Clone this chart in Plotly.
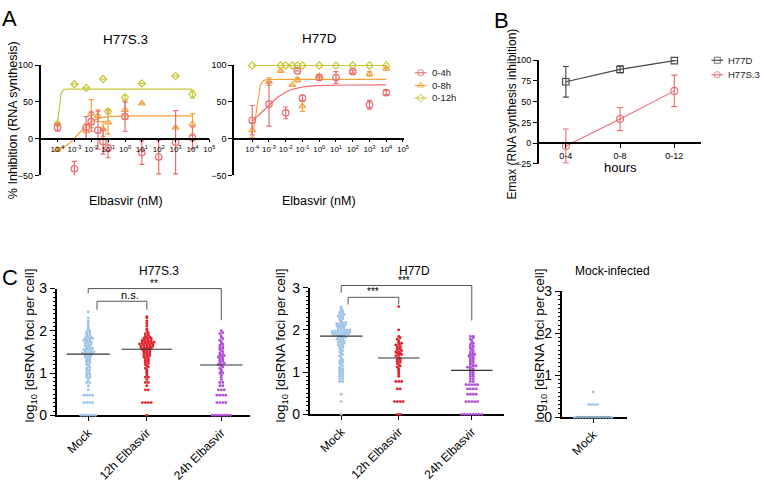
import numpy as np
import plotly.graph_objects as go

FONT = "Arial, Liberation Sans, sans-serif"
W, H = 765, 492

# ---------------- Panel A data ----------------
conc_ticks = [1e-4, 1e-3, 1e-2, 1e-1, 1, 10, 100, 1000, 10000, 100000]
conc_ticktext = ["10<sup>-4</sup>", "10<sup>-3</sup>", "10<sup>-2</sup>", "10<sup>-1</sup>",
                 "10<sup>0</sup>", "10<sup>1</sup>", "10<sup>2</sup>", "10<sup>3</sup>",
                 "10<sup>4</sup>", "10<sup>5</sup>"]
a_series = ["0-4h", "0-8h", "0-12h"]

# H77S.3
s3_4h_x = [1e-4, 1e-3, 5e-3, 1e-2, 2.5e-2, 5e-2, 1e-1, 1, 10, 100, 1000, 10000]
s3_4h_y = [15, -41, 15, 23, 11.5, -4, -13, 30, -19, -25, -5, 1]
s3_4h_e = [5, 10, 15, 13, 26, 17, 13, 20, 16, 23, 43, 15]
s3_8h_x = [1e-4, 5e-3, 1e-2, 2.5e-2, 5e-2, 1e-1, 1, 10, 1000, 10000]
s3_8h_y = [-15, 10, 34, 31, 13, 22, 39, 48, 15, 20]
s3_8h_e = [2, 10, 19, 8, 10, 16, 12, 0, 0, 14]
s3_12h_x = [1e-4, 1e-3, 5e-3, 5e-2, 1e-1, 1, 10, 1000, 10000]
s3_12h_y = [20, 74, 69, 81, 37, 56, 75, 85, 60]
s3_12h_e = [2, 0, 0, 0, 3, 3, 0, 0, 5]
# fit parameters (bottom, top, logEC50, hill)
s3_8h_fit = (-20, 31, -2.8, 0.9)
s3_12h_fit = (0, 67.4, -3.95, 6)

# H77D
d_4h_x = [1e-4, 1e-3, 1e-2, 5e-2, 1e-1, 1, 10, 100, 1000, 10000]
d_4h_y = [25, 47, 35, 92, 55, 83, 83, 91, 46, 62.5]
d_4h_e = [20, 30, 8, 0, 4, 4, 8, 2, 6, 3]
d_8h_x = [1e-4, 1e-3, 5e-3, 2.5e-2, 5e-2, 1e-1, 1, 1000, 10000]
d_8h_y = [11.5, 77.5, 92, 73, 80, 44, 85, 88, 95]
d_8h_e = [10, 5, 0, 0, 3, 7, 0, 3, 2]
d_12h_x = [1e-4, 5e-3, 1e-2, 2.5e-2, 5e-2, 1e-1, 1, 10, 100, 1000, 10000]
d_12h_y = [99.5, 99.5, 99.5, 99.5, 99.5, 99.5, 99.5, 99.5, 99.5, 99.5, 99.5]
d_4h_fit = (5, 73, -3.3, 0.6)
d_8h_fit = (0, 80.6, -3.75, 4)
d_12h_fit = (99.5, 99.5, -3.0, 1)

# ---------------- Panel B data ----------------
hours = ["0-4", "0-8", "0-12"]
b_series = ["H77D", "H77S.3"]
emax_d = [74, 89, 99.5]
emax_d_err = [18.5, 4, 0]
emax_s3 = [-3.5, 29, 63]
emax_s3_err = [20.5, 14, 19]

# ---------------- Panel C data (dsRNA foci counts per cell) ----------------
c_labels = ["Mock", "12h Elbasvir", "24h Elbasvir"]
c_pos = [0, 1, 2.27]

s3_mock = [1]*6 + [2]*4 + [3]*4 + [4, 5, 6, 6, 7, 8, 8, 9, 9, 10, 10, 11, 12, 12, 13, 14, 15, 16, 17, 18,
           19, 20, 21, 22, 23, 24, 25, 26, 27, 28, 29, 30, 30, 30, 31, 32, 33, 34, 35, 36, 37, 38, 39,
           40, 42, 44, 46, 48, 50, 52, 54, 56, 58, 60, 62, 64, 66, 68, 70, 72, 75, 80, 85,
           90, 95, 100, 110, 120, 130, 150, 170, 200, 280]
s3_12h = [1] + [2]*4 + [4, 4, 5, 6, 6, 7, 8, 8, 9, 10, 11, 12, 13, 14, 15, 16, 17, 18, 19, 20, 21, 22, 23,
                        24, 25, 26, 27, 28, 29, 30, 31, 32, 33, 34, 35, 36, 37, 38, 39, 40, 40, 41, 42, 43,
                        44, 45, 46, 47, 48, 49, 50, 51, 52, 53, 54, 55, 56, 57, 58, 60, 62, 64, 66, 68,
                        70, 72, 75, 80, 85, 90, 100, 110, 130, 150, 170, 200, 215]
s3_24h = [1]*7 + [2]*4 + [3]*4 + [4]*3 + [5, 5, 6, 6, 7, 8, 9, 10, 10, 11, 12, 13, 14, 15, 16, 16, 17, 18,
                                          19, 20, 21, 22, 23, 24, 25, 26, 27, 28, 30, 32, 34, 36, 38, 40,
                                          42, 45, 48, 50, 55, 60, 65, 70, 75, 85, 90, 100]
d_mock = [1, 2, 3, 6, 6, 7, 7, 8, 8, 9, 9, 10, 10, 11, 11, 12, 12, 13, 14, 15, 16, 17, 18, 19, 20, 22, 24,
          26, 28, 30, 32, 34, 36, 38, 40, 42, 44, 46, 48, 50, 52, 54, 56, 58, 60, 62, 64, 66, 68, 70,
          72, 74, 75, 76, 78, 80, 80, 82, 84, 85, 86, 88, 90, 90, 92, 94, 95, 96, 98, 100, 100, 105,
          110, 110, 115, 120, 120, 125, 130, 130, 135, 140, 140, 145, 150, 160, 170, 180, 190, 200,
          210, 220, 230, 240, 250, 260, 280, 300, 320, 350]
d_12h = [1]*2 + [2]*4 + [4, 4, 6, 6, 6, 8, 9, 10, 11, 12, 13, 14, 15, 16, 17, 18, 19, 20, 21, 22, 24, 25,
                        26, 28, 28, 30, 30, 32, 34, 35, 36, 38, 40, 42, 44, 46, 48, 50, 55, 60, 65, 70,
                        100, 355]
d_24h = [1]*8 + [2]*5 + [3]*4 + [4]*4 + [5]*5 + [6]*2 + [7]*2 + [8, 8, 9, 9, 10, 10, 11, 11, 12, 12,
                                                               13, 13, 14, 14, 15, 15, 16, 17, 18, 19,
                                                               20, 21, 22, 23, 24, 25, 26, 27, 28, 30,
                                                               32, 34, 36, 38, 40, 42, 45, 48, 50, 55,
                                                               60, 65, 70, 70]
mi_mock = [1]*14 + [2]*4 + [4]

# ---------------- colours ----------------
C4, C8, C12 = "#ec6b70", "#f3a33f", "#c8c83a"
CD = "#444444"
C_MOCK, C_12, C_24 = "#9fc3e7", "#e3232c", "#b24fd6"


def px2x(px):
    return px / W


def px2y(py):
    return 1 - py / H


fig = go.Figure()


def logistic(params):
    bottom, top, ec, hill = params
    lx = np.linspace(-4, 4, 300)
    return 10 ** lx, bottom + (top - bottom) / (1 + 10 ** ((ec - lx) * hill))


def add_points(xs, ys, err, color, symbol, xa, ya, size=6):
    fig.add_trace(go.Scatter(
        x=xs, y=ys, mode="markers", xaxis=xa, yaxis=ya, showlegend=False, cliponaxis=False,
        marker=dict(symbol=symbol, size=size, color=color, line=dict(color=color, width=1.2)),
        error_y=dict(type="data", array=err, visible=err is not None, color=color, thickness=1.2, width=2.5)))


def add_fit(params, color, xa, ya):
    fx, fy = logistic(params)
    fig.add_trace(go.Scatter(x=fx, y=fy, mode="lines", xaxis=xa, yaxis=ya, showlegend=False,
                             line=dict(color=color, width=1.2), cliponaxis=False))


# Panel A left
add_fit(s3_8h_fit, C8, "x", "y")
add_fit(s3_12h_fit, C12, "x", "y")
add_points(s3_12h_x, s3_12h_y, s3_12h_e, C12, "diamond-open", "x", "y", 5.5)
add_points(s3_8h_x, s3_8h_y, s3_8h_e, C8, "triangle-up-open", "x", "y", 6)
add_points(s3_4h_x, s3_4h_y, s3_4h_e, C4, "circle-open", "x", "y", 6.5)
# Panel A right
add_fit(d_12h_fit, C12, "x2", "y2")
add_fit(d_8h_fit, C8, "x2", "y2")
add_fit(d_4h_fit, C4, "x2", "y2")
add_points(d_12h_x, d_12h_y, None, C12, "diamond-open", "x2", "y2", 5.5)
add_points(d_8h_x, d_8h_y, d_8h_e, C8, "triangle-up-open", "x2", "y2", 6)
add_points(d_4h_x, d_4h_y, d_4h_e, C4, "circle-open", "x2", "y2", 6.5)

# Panel B
fig.add_trace(go.Scatter(x=hours, y=emax_d, mode="lines+markers", name=b_series[0], xaxis="x3", yaxis="y3",
                         line=dict(color=CD, width=1.1), cliponaxis=False, showlegend=False,
                         marker=dict(symbol="square-open", size=6.5, color=CD, line=dict(width=1.1)),
                         error_y=dict(type="data", array=emax_d_err, color=CD, thickness=1.1, width=3)))
fig.add_trace(go.Scatter(x=hours, y=emax_s3, mode="lines+markers", name=b_series[1], xaxis="x3", yaxis="y3",
                         line=dict(color=C4, width=1.1), cliponaxis=False, showlegend=False,
                         marker=dict(symbol="circle-open", size=7, color=C4, line=dict(width=1.1)),
                         error_y=dict(type="data", array=emax_s3_err, color=C4, thickness=1.1, width=3)))


# Panel C swarms
def swarm(counts, center, dx=0.05, binw=0.045):
    v = np.log10(np.array(counts, dtype=float))
    b = np.round(v / binw)
    xs = np.zeros_like(v)
    for key in np.unique(b):
        idx = np.where(b == key)[0]
        n = len(idx)
        xs[idx] = center + (np.arange(n) - (n - 1) / 2) * dx
    return xs, v


def add_group(counts, center, color, xa, ya, half=0.37):
    xs, ys = swarm(counts, center)
    fig.add_trace(go.Scatter(x=xs, y=ys, mode="markers", xaxis=xa, yaxis=ya, showlegend=False,
                             cliponaxis=False, marker=dict(size=2.9, color=color)))
    med = float(np.median(np.log10(counts)))
    fig.add_trace(go.Scatter(x=[center - half, center + half], y=[med, med], mode="lines",
                             xaxis=xa, yaxis=ya, showlegend=False, cliponaxis=False,
                             line=dict(color="#333333", width=1.1)))


add_group(s3_mock, c_pos[0], C_MOCK, "x4", "y4")
add_group(s3_12h, c_pos[1], C_12, "x4", "y4", 0.43)
add_group(s3_24h, c_pos[2], C_24, "x4", "y4", 0.36)
add_group(d_mock, c_pos[0], C_MOCK, "x5", "y5")
add_group(d_12h, c_pos[1], C_12, "x5", "y5", 0.36)
add_group(d_24h, c_pos[2], C_24, "x5", "y5", 0.36)
add_group(mi_mock, c_pos[0], C_MOCK, "x6", "y6", 0.3)

# ---------------- manual legends (overlay axis in pixel units) ----------------
legend_items = [
    (a_series[0], C4, "circle-open", 418, 430, 67),
    (a_series[1], C8, "triangle-up-open", 418, 430, 80),
    (a_series[2], C12, "diamond-open", 418, 430, 93),
    (b_series[0], CD, "square-open", 717, 729, 54),
    (b_series[1], C4, "circle-open", 717, 729, 69),
]
ann = []
for name, col, sym, lx0, lx1, ly in legend_items:
    fig.add_trace(go.Scatter(x=[lx0, (lx0 + lx1) / 2, lx1], y=[ly, ly, ly], mode="lines+markers",
                             xaxis="x7", yaxis="y7", showlegend=False, hoverinfo="skip", cliponaxis=False,
                             line=dict(color=col, width=1.1),
                             marker=dict(symbol=sym, size=[0, 6, 0], color=col, line=dict(color=col, width=1.1))))
    ann.append(dict(x=px2x(lx1 + 3), y=px2y(ly), xref="paper", yref="paper", text=name, showarrow=False,
                    xanchor="left", yanchor="middle", font=dict(size=9.5, family=FONT, color="#222222")))

axis_common = dict(showline=True, linecolor="black", linewidth=1.5, ticks="outside", tickcolor="black",
                   tickwidth=1.2, showgrid=False, zeroline=False, tickfont=dict(family=FONT, color="black"))

A_ydom = [px2y(173), px2y(59)]
yA = dict(axis_common, range=[-50, 100], tickvals=[-50, 0, 50, 100], ticklen=4, tickfont=dict(size=9, family=FONT))
xA = dict(axis_common, type="log", tickvals=conc_ticks, ticktext=conc_ticktext, ticklen=3,
          tickfont=dict(size=8, family=FONT), anchor="free", position=px2y(135))

C_axis_y = dict(axis_common, range=[0, 3], tickvals=[0, 1, 2, 3], ticklen=5, tickfont=dict(size=14, family=FONT),
                minor=dict(ticks="outside", dtick=0.1, ticklen=2, tickcolor="black"), layer="below traces")
C_axis_x = dict(axis_common, tickvals=c_pos, ticklen=4, tickangle=-45, tickfont=dict(size=12, family=FONT),
                layer="below traces")
B_ydom = [px2y(161), px2y(54)]
C1_ydom = [px2y(421), px2y(290)]
C2_ydom = [px2y(420), px2y(289)]
C3_ydom = [px2y(423), px2y(293)]

fig.update_layout(
    width=W, height=H, margin=dict(l=0, r=0, t=0, b=0, pad=0),
    paper_bgcolor="white", plot_bgcolor="rgba(0,0,0,0)", showlegend=False,
    font=dict(family=FONT, color="black"),
    xaxis=dict(xA, domain=[px2x(41), px2x(211)], range=[-5.0, 5.0]),
    yaxis=dict(yA, domain=A_ydom, anchor="x"),
    xaxis2=dict(xA, domain=[px2x(236), px2x(407)], range=[-5.08, 5.05]),
    yaxis2=dict(yA, domain=A_ydom, anchor="x2"),
    xaxis3=dict(axis_common, domain=[px2x(543), px2x(707)], range=[-0.5, 2.5], anchor="free",
                position=px2y(139.5), ticklen=4, tickfont=dict(size=9, family=FONT)),
    yaxis3=dict(axis_common, domain=B_ydom, anchor="x3", range=[-25, 100], tickvals=[-25, 0, 25, 50, 75, 100],
                ticklen=4, tickfont=dict(size=9, family=FONT)),
    xaxis4=dict(C_axis_x, domain=[px2x(57), px2x(252)], range=[-0.54, 2.76], anchor="y4",
                ticktext=c_labels),
    yaxis4=dict(C_axis_y, domain=C1_ydom, anchor="x4"),
    xaxis5=dict(C_axis_x, domain=[px2x(312), px2x(508)], range=[-0.55, 2.83], anchor="y5",
                ticktext=c_labels),
    yaxis5=dict(C_axis_y, domain=C2_ydom, anchor="x5"),
    xaxis6=dict(C_axis_x, domain=[px2x(566), px2x(632)], range=[-0.55, 0.59], anchor="y6",
                tickvals=[c_pos[0]], ticktext=[c_labels[0]]),
    yaxis6=dict(C_axis_y, domain=C3_ydom, anchor="x6"),
    xaxis7=dict(domain=[0, 1], range=[0, W], visible=False, anchor="y7", fixedrange=True),
    yaxis7=dict(domain=[0, 1], range=[H, 0], visible=False, anchor="x7", fixedrange=True),
)


def text(px, py, s, size, angle=0, xanchor="center", yanchor="middle"):
    ann.append(dict(x=px2x(px), y=px2y(py), xref="paper", yref="paper", text=s, showarrow=False,
                    font=dict(size=size, family=FONT, color="black"), textangle=angle,
                    xanchor=xanchor, yanchor=yanchor))


text(10, 11, "A", 22)
text(505, 13, "B", 22)
text(10, 279, "C", 22)
text(126, 33, "H77S.3", 13.5)
text(322, 32, "H77D", 13.5)
text(127, 199, "Elbasvir (nM)", 12.5)
text(322, 199, "Elbasvir (nM)", 12.5)
text(13, 116, "% Inhibition (RNA synthesis)", 12.5, -90)
text(625, 165, "hours", 13)
text(517, 109, "Emax (RNA synthesis inhibition)", 12, -90)
text(160, 272, "H77S.3", 12)
text(418, 272, "H77D", 12)
text(617, 272, "Mock-infected", 12)
for xp in (31, 284, 545):
    text(xp, 349, "log<sub>10</sub> [dsRNA foci per cell]", 13.5, -90)


def cy(dom, y):
    return dom[0] + y / 3.0 * (dom[1] - dom[0])


def dtext(xa, dom, x, y, s, size=10):
    ann.append(dict(x=x, y=cy(dom, y), xref=xa, yref="paper", text=s, showarrow=False, yanchor="bottom",
                    font=dict(size=size, family=FONT, color="black")))


dtext("x4", C1_ydom, 1.12, 2.95, "**")
dtext("x4", C1_ydom, 0.72, 2.66, "n.s.", 11)
dtext("x5", C2_ydom, 1.09, 2.98, "***")
dtext("x5", C2_ydom, 0.55, 2.72, "***")
fig.update_layout(annotations=ann)

shapes = []


def bracket(xa, dom, x0, x1, ytop, y0, y1):
    shapes.append(dict(type="path", xref=xa, yref="paper",
                       path=f"M {x0},{cy(dom, y0)} L {x0},{cy(dom, ytop)} L {x1},{cy(dom, ytop)} L {x1},{cy(dom, y1)}",
                       line=dict(color="#555555", width=1)))


bracket("x4", C1_ydom, c_pos[0], c_pos[2], 3.0, 2.89, 2.25)
bracket("x4", C1_ydom, 0.15, c_pos[1], 2.70, 2.5, 2.5)
bracket("x5", C2_ydom, c_pos[0], c_pos[2], 3.05, 2.88, 2.22)
bracket("x5", C2_ydom, 0.12, c_pos[1], 2.77, 2.6, 2.6)
fig.update_layout(shapes=shapes)

fig.write_html("out.html", config={"displayModeBar": False},
               post_script="document.body.style.margin='0px';document.body.style.overflow='hidden';")
